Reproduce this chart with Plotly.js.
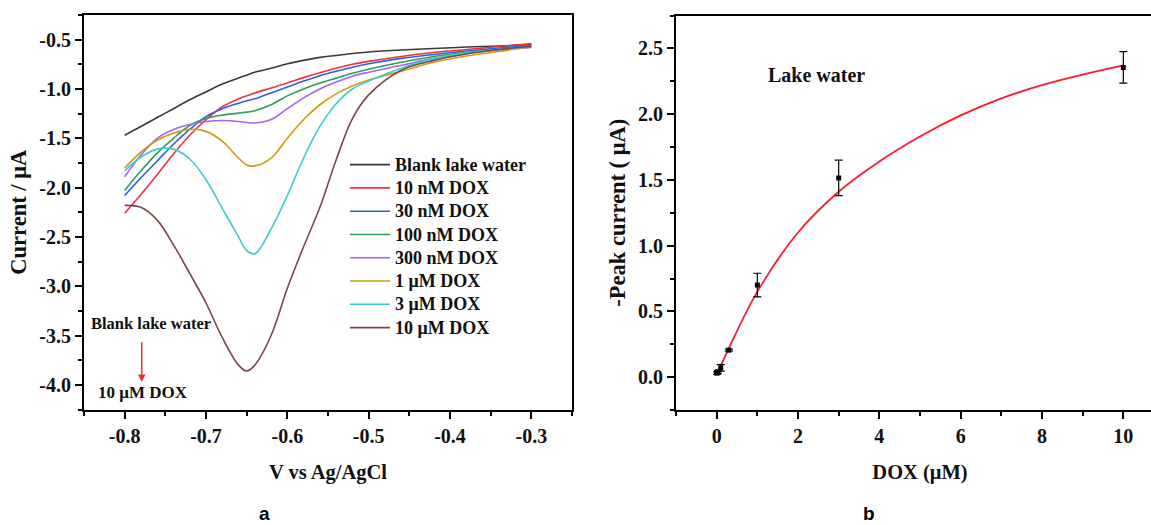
<!DOCTYPE html>
<html>
<head>
<meta charset="utf-8">
<script src="https://cdn.plot.ly/plotly-3.0.1.min.js"></script>
<style>html,body{margin:0;padding:0;background:#fff;overflow:hidden;width:1151px;height:525px}</style>
</head>
<body>
<div id="chart" style="width:1164px;height:525px"></div>
<script>
// ---- Panel a: voltammograms ----
const potential = [-0.8, -0.78, -0.76, -0.74, -0.72, -0.70, -0.68, -0.66, -0.65, -0.64, -0.62, -0.60, -0.58, -0.56, -0.54, -0.52, -0.50, -0.46, -0.42, -0.38, -0.34, -0.30];
const blankLake = [-1.47, -1.38, -1.29, -1.20, -1.11, -1.03, -0.95, -0.89, -0.86, -0.83, -0.79, -0.745, -0.71, -0.68, -0.66, -0.64, -0.625, -0.605, -0.59, -0.575, -0.565, -0.55];
const dox10nM = [-2.26, -2.07, -1.87, -1.66, -1.47, -1.31, -1.18, -1.10, -1.07, -1.04, -0.99, -0.94, -0.885, -0.835, -0.79, -0.75, -0.72, -0.67, -0.63, -0.60, -0.57, -0.54];
const dox30nM = [-2.08, -1.90, -1.73, -1.56, -1.41, -1.28, -1.20, -1.145, -1.12, -1.10, -1.04, -0.98, -0.92, -0.865, -0.82, -0.78, -0.745, -0.69, -0.65, -0.615, -0.585, -0.56];
const dox100nM = [-2.03, -1.83, -1.65, -1.50, -1.37, -1.30, -1.265, -1.245, -1.235, -1.22, -1.16, -1.07, -1.00, -0.94, -0.89, -0.84, -0.80, -0.73, -0.67, -0.63, -0.60, -0.57];
const dox300nM = [-1.89, -1.67, -1.50, -1.41, -1.36, -1.33, -1.32, -1.33, -1.34, -1.345, -1.31, -1.20, -1.09, -1.00, -0.93, -0.87, -0.83, -0.76, -0.69, -0.64, -0.605, -0.58];
const dox1uM = [-1.80, -1.64, -1.52, -1.45, -1.41, -1.43, -1.53, -1.70, -1.77, -1.78, -1.70, -1.50, -1.31, -1.16, -1.05, -0.97, -0.91, -0.82, -0.73, -0.665, -0.62, -0.57];
const dox3uM = [-1.83, -1.69, -1.61, -1.61, -1.71, -1.92, -2.21, -2.50, -2.64, -2.67, -2.42, -2.08, -1.70, -1.38, -1.15, -1.00, -0.92, -0.79, -0.69, -0.635, -0.60, -0.57];
const dox10uM = [-2.18, -2.20, -2.33, -2.58, -2.87, -3.17, -3.52, -3.80, -3.86, -3.80, -3.50, -3.02, -2.60, -2.20, -1.72, -1.30, -1.06, -0.81, -0.71, -0.645, -0.60, -0.57];
const seriesNames = ["Blank lake water", "10 nM DOX", "30 nM DOX", "100 nM DOX", "300 nM DOX", "1 \u03bcM DOX", "3 \u03bcM DOX", "10 \u03bcM DOX"];
const seriesColors = ["#3a3a3a", "#f0323c", "#2f5fe0", "#2e9e5b", "#a762ee", "#d29a12", "#3ccccc", "#7a4646"];
const xTickVals = [-0.8, -0.7, -0.6, -0.5, -0.4, -0.3];
const xTickText = ["-0.8", "-0.7", "-0.6", "-0.5", "-0.4", "-0.3"];
const yTickVals = [-4.0, -3.5, -3.0, -2.5, -2.0, -1.5, -1.0, -0.5];
const yTickText = ["-4.0", "-3.5", "-3.0", "-2.5", "-2.0", "-1.5", "-1.0", "-0.5"];

// ---- Panel b: calibration ----
const doxConc = [0.01, 0.03, 0.1, 0.3, 1, 3, 10];
const peakCurrent = [0.03, 0.04, 0.07, 0.205, 0.70, 1.515, 2.355];
const peakError = [0.01, 0.012, 0.025, 0.008, 0.09, 0.135, 0.12];
const fitConc = [0.02, 0.3, 1, 2, 3, 4, 5, 6, 7, 8, 9, 10];
const fitCurrent = [0.03, 0.22, 0.65, 1.10, 1.41, 1.64, 1.83, 1.99, 2.12, 2.22, 2.30, 2.37];

const W = 1164, H = 525;
const serif = "Liberation Serif, Times New Roman, serif";
const ink = "#111";
const curves = [blankLake, dox10nM, dox30nM, dox100nM, dox300nM, dox1uM, dox3uM, dox10uM];

const traces = curves.map((c, i) => ({
  type: "scatter", mode: "lines", x: potential, y: c,
  name: '<span style="font-size:18px">' + seriesNames[i] + '</span>',
  line: {color: seriesColors[i], width: 1.6, shape: "spline", smoothing: 1},
  xaxis: "x", yaxis: "y"
}));
traces.push({
  type: "scatter", mode: "lines", x: fitConc, y: fitCurrent, showlegend: false,
  line: {color: "#ff1a2e", width: 1.8, shape: "spline", smoothing: 1},
  xaxis: "x2", yaxis: "y2"
});
traces.push({
  type: "scatter", mode: "markers", x: doxConc, y: peakCurrent, showlegend: false,
  marker: {symbol: "square", size: 5, color: "#000"},
  error_y: {type: "data", array: peakError, visible: true, color: "#000", thickness: 1.2, width: 4},
  xaxis: "x2", yaxis: "y2"
});

const tickFont = {family: serif, size: 20, weight: "bold", color: ink};
const xTitleFont = {family: serif, size: 20.5, weight: "bold", color: ink};
const yTitleFont = {family: serif, size: 22.5, weight: "bold", color: ink};
const axBase = {
  showgrid: false, zeroline: false, showline: true, linecolor: "#000", linewidth: 2,
  ticks: "outside", ticklen: 7, tickwidth: 2, tickcolor: "#000", tickfont: tickFont
};
const minorTick = (d, t0) => ({dtick: d, tick0: t0, ticks: "outside", ticklen: 4, tickwidth: 2, tickcolor: "#000"});

const layout = {
  width: W, height: H,
  margin: {l: 0, r: 0, t: 0, b: 0},
  paper_bgcolor: "#fff", plot_bgcolor: "#fff",
  showlegend: true,
  legend: {
    x: 345 / W, y: 1 - 148 / H, xanchor: "left", yanchor: "top",
    bgcolor: "rgba(0,0,0,0)", borderwidth: 0, itemwidth: 40,
    font: {family: serif, size: 15.6, weight: "bold", color: ink},
    tracegroupgap: 0
  },
  xaxis: Object.assign({}, axBase, {
    domain: [84 / W, 572 / W], range: [-0.85, -0.25], mirror: true,
    tickmode: "array", tickvals: xTickVals, ticktext: xTickText,
    minor: minorTick(0.05, -0.85),
    title: {text: "V vs Ag/AgCl", font: xTitleFont, standoff: 19},
    anchor: "y"
  }),
  yaxis: Object.assign({}, axBase, {
    domain: [1 - 409.5 / H, 1 - 15 / H], range: [-4.25, -0.25], mirror: true,
    tickmode: "array", tickvals: yTickVals, ticktext: yTickText,
    minor: minorTick(0.25, -0.25),
    title: {text: "Current / \u03bcA", font: yTitleFont, standoff: 6},
    anchor: "x"
  }),
  xaxis2: Object.assign({}, axBase, {
    domain: [676 / W, 1], range: [-1, 11], mirror: true,
    dtick: 2, tick0: 0,
    minor: minorTick(1, 0),
    title: {text: "DOX (\u03bcM)", font: xTitleFont, standoff: 19},
    anchor: "y2"
  }),
  yaxis2: Object.assign({}, axBase, {
    domain: [1 - 410 / H, 1 - 15.5 / H], range: [-0.25, 2.75],
    dtick: 0.5, tick0: 0, tickformat: ".1f",
    minor: minorTick(0.25, 0),
    title: {text: "-Peak current ( \u03bcA)", font: yTitleFont, standoff: 6},
    anchor: "x2"
  }),
  annotations: [
    {xref: "x", yref: "y", x: -0.768, y: -3.377, text: "Blank lake water", showarrow: false,
     font: {family: serif, size: 16.5, weight: "bold", color: ink}},
    {xref: "x", yref: "y", x: -0.778, y: -4.08, text: "10 \u03bcM DOX", showarrow: false,
     font: {family: serif, size: 17, weight: "bold", color: ink}},
    {xref: "x", yref: "y", axref: "x", ayref: "y", x: -0.779, y: -3.97, ax: -0.779, ay: -3.55,
     text: "", showarrow: true, arrowhead: 2, arrowsize: 1, arrowwidth: 1.5, arrowcolor: "#e8303a"},
    {xref: "x2", yref: "y2", x: 2.46, y: 2.30, text: "Lake water", showarrow: false,
     font: {family: serif, size: 20, weight: "bold", color: ink}},
    {xref: "paper", yref: "paper", x: 264 / W, y: 1 - 513 / H, xanchor: "center", yanchor: "middle",
     text: "a", showarrow: false,
     font: {family: "Liberation Sans, Arial, sans-serif", size: 19, weight: "bold", color: "#000"}},
    {xref: "paper", yref: "paper", x: 869 / W, y: 1 - 513 / H, xanchor: "center", yanchor: "middle",
     text: "b", showarrow: false,
     font: {family: "Liberation Sans, Arial, sans-serif", size: 19, weight: "bold", color: "#000"}}
  ]
};

Plotly.newPlot("chart", traces, layout, {displayModeBar: false, staticPlot: true});
</script>
</body>
</html>
